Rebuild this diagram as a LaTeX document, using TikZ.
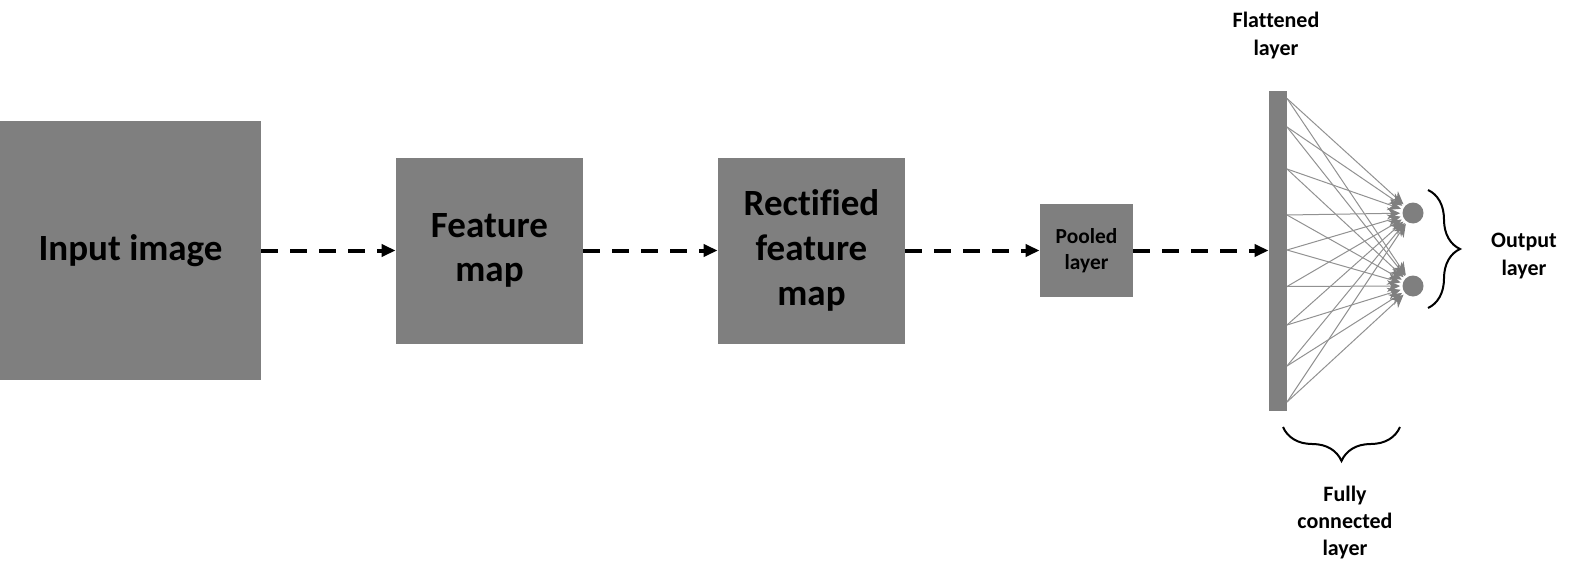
\documentclass[tikz,border=0pt]{standalone}
\usepackage{fontspec}
\setmainfont{Carlito}[Ligatures=NoCommon]
\usetikzlibrary{arrows.meta,decorations.pathreplacing}
\definecolor{boxgray}{RGB}{127,127,127}
\definecolor{wiregray}{RGB}{145,145,145}
\tikzset{
  stage/.style={fill=boxgray, inner sep=0pt, align=center,
    font=\bfseries\fontsize{18.5}{22.4}\selectfont},
  flow/.style={line width=2pt, dash pattern=on 8.5pt off 6pt,
    -{Triangle[length=7pt,width=6pt]}},
  wire/.style={draw=wiregray, line width=0.5pt,
    -{Stealth[length=6.5pt,width=6pt,color=boxgray,fill=boxgray]}, shorten >=1pt},
  lbl/.style={align=center, font=\bfseries\fontsize{11}{13.7}\selectfont},
  curly/.style={decorate, line width=1pt}
}
\begin{document}
\begin{tikzpicture}[x=0.5pt,y=-0.5pt]
\useasboundingbox (0,0) rectangle (1592,578);
%Stages
\node[stage, minimum width=130.5pt, minimum height=129.5pt] (inp) at (130.5,250.5) {Input image};
\node[stage, minimum width=93.5pt, minimum height=93pt] (fmap) at (489.5,250.5) {Feature\\map};
\node[stage, minimum width=93.5pt, minimum height=93pt] (rfmap) at (811.5,250.5) {Rectified\\feature\\map};
\node[stage, minimum size=46.5pt, font=\bfseries\fontsize{10.7}{13.2}\selectfont] (pool) at (1086.5,250.5) {Pooled\\layer};
\node[fill=boxgray, inner sep=0pt, minimum width=9pt, minimum height=160pt] (flat) at (1278,250.5) {};
\draw[flow] (inp) -- (fmap);
\draw[flow] (fmap) -- (rfmap);
\draw[flow] (rfmap) -- (pool);
\draw[flow] (pool) -- (flat);
%Output neurons
\node[circle, fill=boxgray, inner sep=0pt, minimum size=10.5pt] (out1) at (1413,213) {};
\node[circle, fill=boxgray, inner sep=0pt, minimum size=10.5pt] (out2) at (1413,286) {};
%Fully connected wires
\foreach \y [count=\i] in {98.5,127,169,215,250,286.5,325,366,402}
  \coordinate (s\i) at (1287,\y);
\foreach \i in {1,...,9} {
  \draw[wire] (s\i) -- (out1);
  \draw[wire] (s\i) -- (out2);
}
%Braces
\coordinate (ob1) at (1428,190);
\coordinate (ob2) at (1428,308);
\draw[curly, decoration={brace, amplitude=16pt}] (ob1) -- (ob2);
\coordinate (fb1) at (1400,427);
\coordinate (fb2) at (1283,427);
\draw[curly, decoration={brace, amplitude=17pt}] (fb1) -- (fb2);
%Labels
\node[lbl] (flatlbl) at (1276,35.5) {Flattened\\layer};
\node[lbl] (outlbl) at (1524,256) {Output\\layer};
\node[lbl] (fclbl) at (1345,522.5) {Fully\\connected\\layer};
\end{tikzpicture}
\end{document}
